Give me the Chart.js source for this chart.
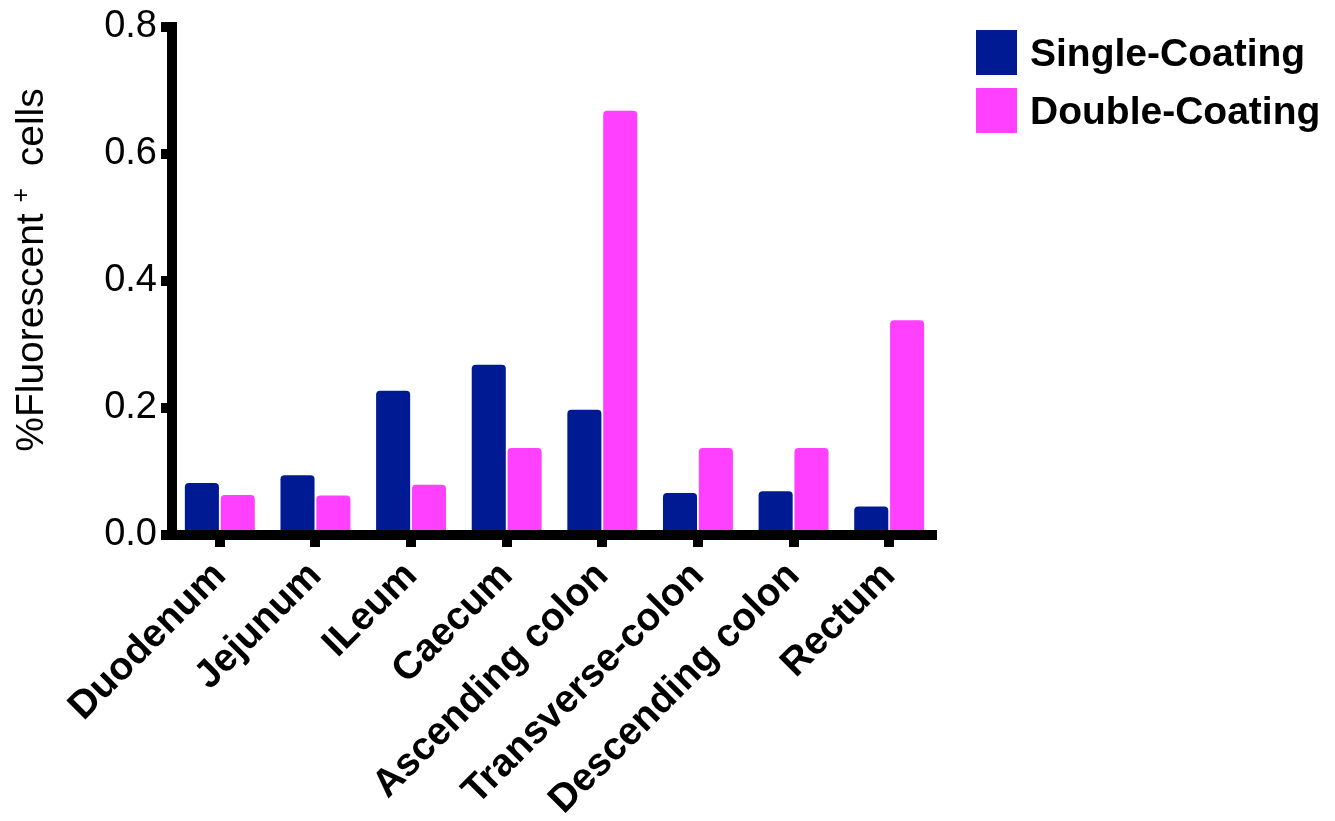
<!DOCTYPE html>
<html>
<head>
<meta charset="utf-8">
<title>Fluorescent cells by intestinal segment</title>
<script src="https://cdn.jsdelivr.net/npm/chart.js@4.4.1/dist/chart.umd.min.js"></script>
<style>
  html, body { margin: 0; padding: 0; background: #ffffff; }
  #wrap { width: 1335px; height: 821px; position: relative; }
</style>
</head>
<body>
<div id="wrap"><canvas id="chart" width="1335" height="821"></canvas></div>
<script>
// Intestinal segments along the x axis
const segments = ['Duodenum', 'Jejunum', 'ILeum', 'Caecum', 'Ascending colon',
                  'Transverse-colon', 'Descending colon', 'Rectum'];

// % fluorescent-positive cells per segment
const singleCoating = [0.082, 0.094, 0.227, 0.268, 0.197, 0.066, 0.069, 0.045];
const doubleCoating = [0.063, 0.062, 0.079, 0.137, 0.668, 0.137, 0.137, 0.338];

const seriesNames = ['Single-Coating', 'Double-Coating'];
const yTicks = [0, 0.2, 0.4, 0.6, 0.8];

const FONT = '"Liberation Sans", Arial, Helvetica, sans-serif';
const NAVY = '#001A94';
const PINK = '#FF40FF';

// Axis title with a superscript "+", rotated along the y axis
const yTitlePlugin = {
  id: 'yTitle',
  afterDraw(chart) {
    const ctx = chart.ctx;
    const parts = [
      { t: '%Fluorescent ', f: '39px ' + FONT, dy: 0 },
      { t: '+', f: '25px ' + FONT, dy: -14 },
      { t: '  cells', f: '39px ' + FONT, dy: 0 }
    ];
    let total = 0;
    parts.forEach(p => { ctx.font = p.f; p.w = ctx.measureText(p.t).width; total += p.w; });
    ctx.save();
    ctx.translate(43, 270);
    ctx.rotate(-Math.PI / 2);
    ctx.fillStyle = '#000';
    ctx.textBaseline = 'alphabetic';
    ctx.textAlign = 'left';
    let x = -total / 2;
    parts.forEach(p => { ctx.font = p.f; ctx.fillText(p.t, x, p.dy); x += p.w; });
    ctx.restore();
  }
};

// Legend drawn to the right of the plot
const sideLegendPlugin = {
  id: 'sideLegend',
  afterDraw(chart) {
    const ctx = chart.ctx;
    ctx.save();
    chart.data.datasets.forEach((ds, i) => {
      const top = 30 + i * 58;
      ctx.fillStyle = ds.backgroundColor;
      ctx.fillRect(976, top, 41, 45);
      ctx.fillStyle = '#000';
      ctx.font = 'bold 39px ' + FONT;
      ctx.textBaseline = 'middle';
      ctx.textAlign = 'left';
      ctx.fillText(ds.label, 1030, top + 25);
    });
    ctx.restore();
  }
};

const PLOT = { left: 172, right: 937, top: 25, bottom: 535 };

new Chart(document.getElementById('chart'), {
  type: 'bar',
  data: {
    labels: segments,
    datasets: [
      {
        label: seriesNames[0],
        data: singleCoating,
        backgroundColor: NAVY,
        borderRadius: { topLeft: 4, topRight: 4, bottomLeft: 0, bottomRight: 0 },
        borderSkipped: 'start'
      },
      {
        label: seriesNames[1],
        data: doubleCoating,
        backgroundColor: PINK,
        borderRadius: { topLeft: 4, topRight: 4, bottomLeft: 0, bottomRight: 0 },
        borderSkipped: 'start'
      }
    ]
  },
  options: {
    responsive: false,
    animation: false,
    devicePixelRatio: 1,
    categoryPercentage: 0.75,
    barPercentage: 0.95,
    layout: {
      padding: { top: PLOT.top, right: 1335 - PLOT.right, left: 0, bottom: 0 }
    },
    plugins: {
      legend: { display: false },
      tooltip: { enabled: false },
      title: { display: false }
    },
    scales: {
      x: {
        z: 1,
        offset: true,
        afterFit(scale) { scale.height = 821 - PLOT.bottom; },
        grid: {
          offset: false,
          drawOnChartArea: false,
          drawTicks: true,
          tickLength: 12,
          lineWidth: 0,
          tickWidth: 10,
          color: '#000',
          tickColor: '#000'
        },
        border: { display: true, width: 10, color: '#000' },
        ticks: {
          autoSkip: false,
          minRotation: 45,
          maxRotation: 45,
          padding: 6,
          color: '#000',
          font: { family: FONT, size: 39, weight: 'bold' }
        }
      },
      y: {
        z: 1,
        min: 0,
        max: 0.8,
        afterFit(scale) { scale.width = PLOT.left; },
        afterBuildTicks(scale) { scale.ticks = yTicks.map(v => ({ value: v })); },
        grid: {
          drawOnChartArea: false,
          drawTicks: true,
          tickLength: 11,
          lineWidth: 10,
          tickWidth: 10,
          color: '#000',
          tickColor: '#000'
        },
        border: { display: true, width: 10, color: '#000' },
        ticks: {
          padding: 4,
          color: '#000',
          font: { family: FONT, size: 38 },
          callback: v => Number(v).toFixed(1)
        }
      }
    }
  },
  plugins: [yTitlePlugin, sideLegendPlugin]
});
</script>
</body>
</html>
